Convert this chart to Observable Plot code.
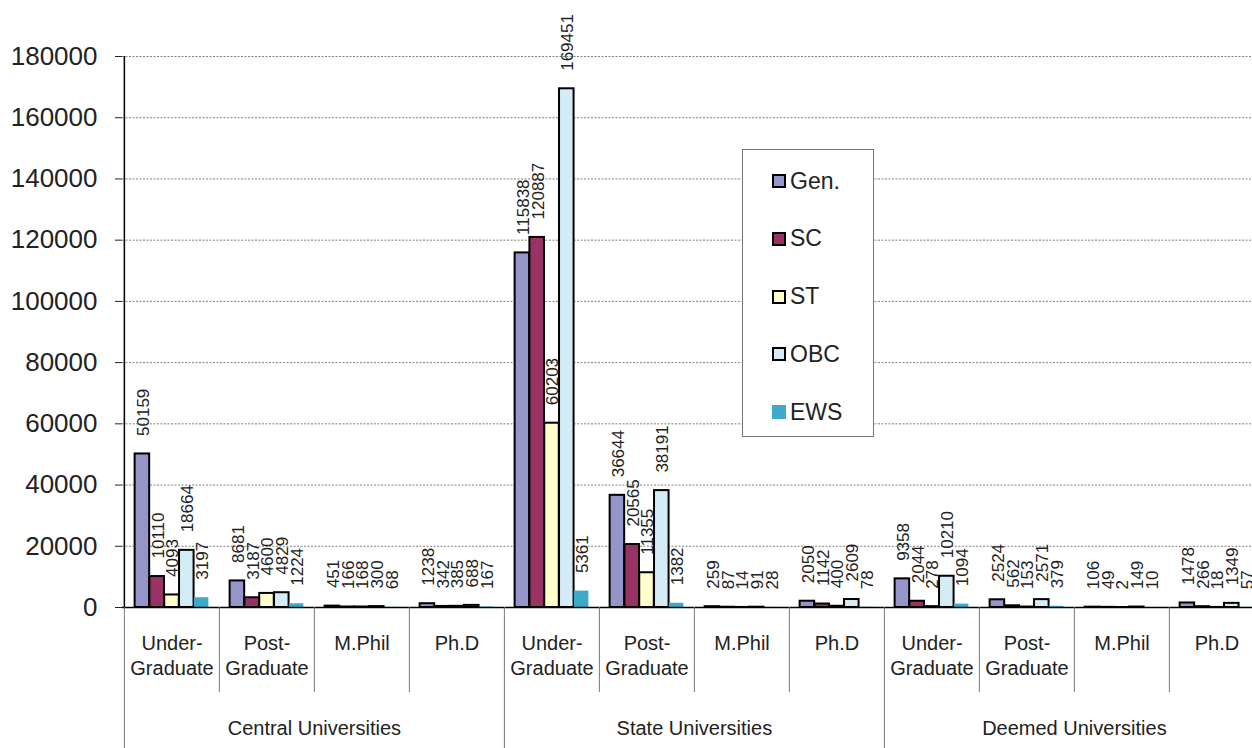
<!DOCTYPE html>
<html>
<head>
<meta charset="utf-8">
<script src="https://cdn.jsdelivr.net/npm/d3@7"></script>
<script src="https://cdn.jsdelivr.net/npm/@observablehq/plot@0.6"></script>
<style>
  html, body { margin: 0; padding: 0; background: #fff; overflow: hidden; }
  #wrap { position: relative; width: 1252px; height: 748px; }
  #legend { position: absolute; left: 742px; top: 149px; width: 132px; height: 288px;
    border: 1px solid #777; background: #fff; box-sizing: border-box;
    font-family: "Liberation Sans", Arial, sans-serif; font-size: 23px; color: #222; }
  .item { position: absolute; left: 29px; display: flex; align-items: center; height: 26px; }
  .sw { width: 14px; height: 14px; box-sizing: border-box; margin-right: 4px; }
</style>
</head>
<body>
<div id="wrap"></div>
<script>
// ---- data ----
const groups = ["Central Universities", "State Universities", "Deemed Universities"];
const levels = ["Under-Graduate", "Post-Graduate", "M.Phil", "Ph.D"];
const levelLabels = ["Under-\nGraduate", "Post-\nGraduate", "M.Phil", "Ph.D"];
const series = ["Gen.", "SC", "ST", "OBC", "EWS"];
const colors = ["#9595c9", "#993366", "#ffffcc", "#d4ecf5", "#3faac7"];
const central = [[50159, 10110, 4093, 18664, 3197], [8681, 3187, 4600, 4829, 1224], [451, 166, 168, 300, 68], [1238, 342, 385, 688, 167]];
const state = [[115838, 120887, 60203, 169451, 5361], [36644, 20565, 11355, 38191, 1382], [259, 87, 14, 91, 28], [2050, 1142, 400, 2609, 78]];
const deemed = [[9358, 2044, 278, 10210, 1094], [2524, 562, 153, 2571, 379], [106, 49, 2, 149, 10], [1478, 266, 18, 1349, 57]];
const yTicks = [0, 20000, 40000, 60000, 80000, 100000, 120000, 140000, 160000, 180000];

// ---- build table ----
const tables = [central, state, deemed];
const cats = [];
const rows = [];
groups.forEach((g, gi) => levels.forEach((l, li) => {
  const key = g + "|" + l;
  cats.push({key, group: g, level: l, label: levelLabels[li], li});
  series.forEach((s, si) => rows.push({key, series: s, si, value: tables[gi][li][si]}));
}));
const keys = cats.map(d => d.key);

// ---- layout ----
const W = 1252, H = 748, mLeft = 122, xEnd = 1265, yBase = 607, yTop = 56;
const bw = (xEnd - mLeft) / keys.length;
const barW = 14.8, pad = (bw - 5 * barW) / 2;
const font = "'Liberation Sans', Arial, sans-serif";

const marks = [];
marks.push(Plot.ruleY(yTicks.slice(1), {stroke: "#808080", strokeWidth: 1, strokeDasharray: "2,1.5"}));
series.forEach((s, i) => {
  const data = rows.filter(r => r.si === i);
  marks.push(Plot.barY(data, {
    x: "key", y: "value", fill: colors[i],
    stroke: i < 4 ? "#000" : "none", strokeWidth: 2,
    insetLeft: pad + i * barW, insetRight: bw - pad - (i + 1) * barW
  }));
});
marks.push(Plot.ruleY([0], {stroke: "#000", strokeWidth: 1.5}));
// y axis line + separators
marks.push(Plot.ruleX([keys[0]], {x: d => d, dx: -bw / 2, stroke: "#000", strokeWidth: 1.5, insetBottom: H - yBase}));
marks.push(Plot.ruleX(cats.filter(c => c.li !== 0), {x: "key", dx: -bw / 2, stroke: "#777", strokeWidth: 1, insetTop: yBase - yTop, insetBottom: H - 692}));
marks.push(Plot.ruleX(cats.filter(c => c.li === 0), {x: "key", dx: -bw / 2, stroke: "#777", strokeWidth: 1, insetTop: yBase - yTop}));
// value labels
series.forEach((s, i) => {
  const data = rows.filter(r => r.si === i);
  marks.push(Plot.text(data, {
    x: "key", y: "value", text: d => String(d.value), rotate: -90, textAnchor: "start",
    dx: pad + (i + 0.5) * barW - bw / 2 + 1, dy: -18, fontSize: 17, fill: "#222"
  }));
});
// category labels
marks.push(Plot.text(cats, {x: "key", y: () => 0, text: "label", lineAnchor: "top", lineHeight: 1.25, dy: 25, fontSize: 20, fill: "#222"}));
marks.push(Plot.text(cats.filter(c => c.li === 2), {x: "key", y: () => 0, text: "group", dx: -bw / 2, dy: 121, fontSize: 20, fill: "#222"}));

const chart = Plot.plot({
  width: W, height: H,
  marginLeft: mLeft, marginRight: 0, marginTop: yTop, marginBottom: 0,
  style: {fontFamily: font, fontSize: "26px", color: "#222", background: "white", overflow: "visible"},
  x: {domain: keys, range: [mLeft, xEnd], padding: 0, axis: null},
  y: {domain: [0, 180000], range: [yBase, yTop], ticks: yTicks, tickFormat: d => String(d), tickSize: 7, tickPadding: 18, label: null},
  marks
});
chart.style.maxWidth = "none";
const wrap = document.getElementById("wrap");
wrap.appendChild(chart);

// legend
const leg = document.createElement("div");
leg.id = "legend";
series.forEach((s, i) => {
  const it = document.createElement("div");
  it.className = "item";
  it.style.top = (31 - 13 + i * 57.8) + "px";
  const sw = document.createElement("div");
  sw.className = "sw";
  sw.style.background = colors[i];
  if (i < 4) sw.style.border = "2px solid #000";
  const tx = document.createElement("span");
  tx.textContent = s;
  it.appendChild(sw); it.appendChild(tx);
  leg.appendChild(it);
});
wrap.appendChild(leg);
</script>
</body>
</html>
